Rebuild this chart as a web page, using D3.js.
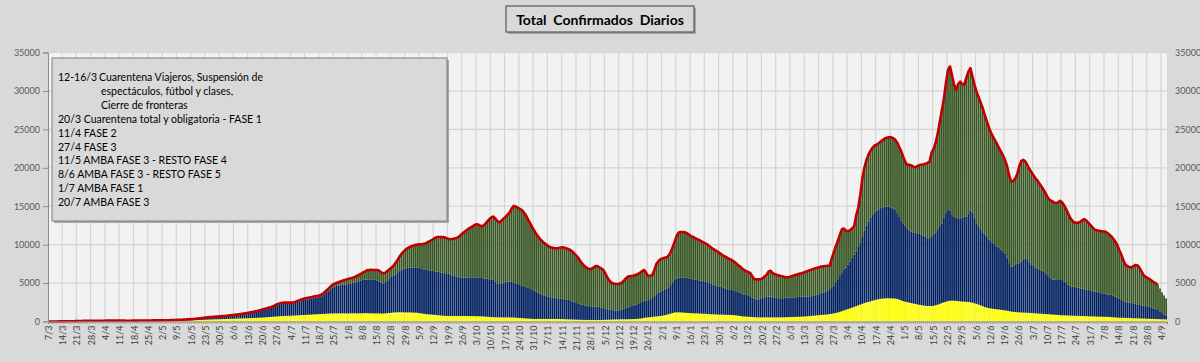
<!DOCTYPE html>
<html>
<head>
<meta charset="utf-8">
<script src="https://cdn.jsdelivr.net/npm/d3@7"></script>
<style>
  body { margin: 0; background: #d9d9d9; }
  svg { display: block; }
</style>
</head>
<body>
<div id="chart"></div>
<script>
// First day of the series (one bar per day)
const startDate = "2020-03-07";

// Daily confirmed cases, CABA (yellow)
const caba = [
  1,1,1,2,3,4,5, 6,7,8,10,12,14,17, 20,22,24,26,28,30,31, 32,33,34,35,36,37,38,
  39,40,40,41,41,41,40, 40,39,38,37,37,38,40, 42,44,46,48,50,52,54, 56,58,60,62,64,66,68,
  71,74,77,80,84,88,93, 98,104,110,117,124,132,142, 152,163,174,186,198,210,222, 234,245,256,266,276,285,294,
  302,310,318,326,334,342,350, 360,370,380,390,400,410,420, 430,440,450,462,475,490,505, 520,540,560,580,600,620,640,
  660,680,700,715,725,735,745, 755,770,785,800,815,830,845, 860,875,890,905,920,935,950, 965,980,995,1010,1025,1040,1050,
  1060,1060,1060,1060,1060,1060,1060, 1050,1060,1070,1070,1060,1050,1060, 1070,1080,1080,1070,1060,1060,1050, 1060,1050,1040,1030,1050,1080,1110,
  1140,1170,1190,1200,1200,1200,1190, 1190,1180,1180,1170,1160,1150,1120, 1080,1040,1000,960,930,910,890, 870,850,820,790,760,740,730,
  720,720,720,720,720,720,720, 720,720,710,710,700,700,690, 690,680,670,660,640,620,600, 580,560,550,540,540,540,540,
  540,540,530,520,510,500,480, 460,440,420,400,380,360,345, 335,330,330,330,330,330,330, 330,330,330,330,330,330,320,
  310,300,290,280,270,260,250, 240,230,220,210,205,200,200, 200,200,200,200,200,200,210, 220,230,240,250,260,270,280,
  280,285,290,290,295,300,310, 320,330,350,380,420,470,520, 540,570,600,630,660,690,720, 760,820,880,950,1030,1110,1180,
  1190,1190,1180,1160,1140,1120,1100, 1080,1070,1060,1050,1040,1030,1010, 1000,980,960,945,930,920,910, 900,890,880,870,860,850,840,
  820,800,760,720,680,650,630, 620,600,580,560,550,540,540, 540,540,540,540,540,540,540, 540,540,540,545,550,560,570,
  580,590,600,610,620,630,640, 660,680,700,720,750,780,810, 840,860,880,900,930,960,1000, 1050,1110,1180,1260,1350,1440,1530,
  1620,1710,1800,1900,2000,2100,2200, 2300,2400,2480,2550,2620,2700,2780, 2850,2900,2950,2980,3000,3020,3020, 3010,3000,2980,2930,2850,2750,2650,
  2580,2520,2460,2400,2340,2280,2230, 2180,2120,2080,2040,2020,2010,2020, 2050,2120,2200,2300,2400,2500,2580, 2650,2700,2710,2700,2680,2650,2620,
  2600,2580,2560,2540,2500,2450,2370, 2300,2200,2100,2000,1880,1800,1740, 1700,1660,1620,1580,1560,1520,1480, 1440,1400,1350,1290,1260,1240,1210,
  1190,1170,1160,1150,1140,1120,1100, 1080,1060,1040,1020,1000,980,970, 950,930,910,890,870,850,830, 810,800,790,780,770,760,750,
  740,730,720,710,700,690,680, 670,660,650,640,630,625,620, 610,600,590,570,550,530,510, 500,490,480,470,460,450,440,
  430,420,410,400,390,380,370, 360,350,340,330,320,310,300, 290,280,270
];

// Daily confirmed cases, Provincia de Buenos Aires (blue)
const pba = [
  0,1,1,1,2,3,3, 4,5,6,8,9,11,13, 15,17,19,21,23,25,26, 27,28,29,30,31,32,33,
  34,35,36,36,37,37,37, 37,36,35,35,35,35,36, 38,39,40,41,42,43,44, 45,46,47,48,49,50,51,
  52,54,56,59,62,66,70, 95,98,104,110,116,122,128, 140,153,166,183,200,218,236, 252,270,283,298,312,327,338,
  348,358,374,390,406,422,445, 465,495,525,555,585,615,640, 675,715,752,797,843,895,955, 1010,1055,1110,1165,1220,1300,1390,
  1490,1560,1605,1620,1620,1610,1590, 1585,1605,1660,1740,1815,1890,1965, 1960,2005,2040,2065,2110,2145,2190, 2235,2320,2485,2700,2915,3130,3350,
  3510,3560,3610,3660,3700,3740,3760, 3830,3880,3930,4010,4100,4190,4260, 4330,4360,4390,4420,4430,4420,4370, 4290,4150,4010,3940,4050,4270,4490,
  4660,4780,4910,5100,5350,5550,5690, 5730,5790,5820,5860,5890,5900,5900, 5870,5810,5750,5740,5750,5740,5710, 5680,5640,5630,5610,5590,5560,5540,
  5480,5380,5280,5180,5120,5060,5020, 4990,5000,5030,5040,5060,5050,5050, 5030,5020,4990,4960,4960,4940,4900, 4870,4840,4650,4410,4340,4410,4510,
  4580,4630,4660,4630,4540,4470,4420, 4340,4260,4180,4100,4020,3960,3855, 3715,3570,3420,3270,3150,3050,2970, 2890,2820,2750,2710,2690,2670,2660,
  2640,2600,2560,2520,2430,2340,2250, 2160,2070,1980,1940,1895,1850,1800, 1760,1740,1730,1720,1680,1620,1540, 1460,1370,1300,1250,1210,1180,1170,
  1200,1265,1360,1460,1555,1650,1710, 1780,1870,1950,2040,2130,2210,2220, 2260,2330,2450,2670,2890,3060,3180, 3240,3280,3370,3500,3720,3990,4220,
  4410,4510,4570,4590,4580,4560,4520, 4480,4430,4390,4350,4310,4270,4240, 4180,4120,4040,3955,3870,3780,3690, 3640,3590,3520,3430,3340,3280,3260,
  3230,3150,3090,3030,2920,2850,2820, 2780,2700,2520,2390,2350,2350,2410, 2510,2610,2660,2690,2690,2610,2540, 2510,2490,2480,2485,2500,2520,2530,
  2540,2550,2550,2560,2580,2590,2590, 2580,2570,2560,2580,2600,2640,2690, 2760,2840,2920,2980,3020,3140,3350, 3650,3990,4320,4640,4950,5260,5470,
  5780,6090,6500,6800,7100,7600,8100, 8700,9400,10020,10450,10880,11200,11420, 11550,11700,11800,11870,11950,11930,11930, 11840,11700,11520,11170,10750,10350,10130,
  9920,9580,9340,9290,9260,9220,9170, 9210,9180,9120,8960,8800,8840,8980, 9210,9480,9800,10100,10380,11000,11520, 11950,11700,11190,10950,10870,10800,10810,
  10900,11020,11090,11460,11930,11750,11130, 10480,10200,9900,9600,9380,9200,8960, 8750,8540,8340,8170,7990,7830,7670, 7430,6900,6250,5850,5940,6110,6290,
  6380,6630,6840,7070,6860,6580,6260, 6120,5940,5810,5680,5620,5470,5280, 5050,4820,4580,4560,4550,4550,4570, 4590,4400,4210,4020,3830,3780,3750,
  3710,3670,3580,3540,3490,3460,3420, 3330,3290,3250,3210,3120,3075,3030, 2990,2950,2910,2880,2800,2720,2590, 2450,2310,2170,2110,2040,2000,1960,
  1920,1880,1790,1750,1710,1670,1630, 1590,1550,1460,1370,1280,1190,1000, 810,620,530
];

// Daily confirmed cases, whole country (top of the bars / red line)
const total = [
  2,3,3,5,8,10,12, 15,18,22,28,33,40,48, 55,62,68,75,80,85,88, 90,92,95,98,100,102,105,
  108,110,112,113,115,115,114, 112,110,108,106,105,106,110, 115,118,120,122,125,128,132, 135,138,140,142,145,148,150,
  155,160,165,172,180,190,200, 210,220,232,245,258,272,290, 310,335,360,390,420,450,480, 510,540,565,590,615,640,660,
  680,700,725,750,775,800,830, 860,900,940,980,1020,1060,1100, 1150,1200,1250,1310,1370,1440,1510, 1590,1660,1740,1820,1900,2000,2120,
  2250,2350,2420,2450,2460,2460,2450, 2460,2500,2580,2680,2780,2880,2960, 3020,3080,3130,3180,3240,3300,3360, 3430,3550,3750,4000,4250,4500,4750,
  4900,5000,5100,5200,5300,5400,5480, 5550,5620,5700,5800,5920,6050,6200, 6350,6500,6650,6700,6720,6700,6700, 6700,6600,6400,6270,6350,6550,6800,
  7000,7250,7600,8000,8450,8800,9100, 9350,9550,9700,9800,9900,9980,10020, 10040,10060,10100,10200,10350,10480,10620, 10800,10950,11000,11000,10980,10950,10850,
  10750,10700,10720,10800,10870,11000,11250, 11480,11700,11900,12100,12250,12400,12600, 12650,12550,12400,12450,12700,13000,13300, 13550,13650,13400,13050,12900,13100,13400,
  13600,13900,14200,14700,15040,14950,14800, 14650,14500,14200,13800,13300,12800,12300, 11850,11400,11050,10700,10450,10200,10000, 9800,9650,9600,9550,9530,9560,9620,
  9660,9600,9500,9400,9250,9050,8750, 8500,8150,7750,7400,7150,6950,6800, 6850,7000,7200,7200,7050,6900,6700, 6200,5700,5300,5050,4950,4880,4880,
  4950,5060,5300,5600,5840,5900,5920, 5980,6080,6180,6350,6550,6700,6300, 5920,5950,6050,6700,7500,7850,8100, 8200,8300,8350,8600,9000,9700,10400,
  11200,11570,11650,11650,11600,11480,11300, 11100,11000,10850,10720,10600,10450,10300, 10150,10000,9800,9600,9400,9250,9100, 8900,8700,8550,8400,8250,8100,8000,
  7800,7600,7350,7150,6900,6700,6550, 6450,6300,5900,5500,5480,5480,5500, 5600,5850,6050,6500,6600,6300,6180, 6080,6000,5920,5850,5780,5750,5750,
  5850,5950,6050,6120,6200,6270,6350, 6450,6550,6650,6750,6850,6920,7000, 7080,7140,7180,7220,7250,7270,8200, 9000,9800,10500,11300,12000,12100,11800,
  11750,11900,12100,12400,13800,14800,16500, 18600,20000,21000,21700,22200,22600,22900, 23000,23200,23400,23600,23800,23900,23980, 24000,23850,23700,23300,22770,22200,21470,
  20800,20380,20380,20300,20150,20080,20200, 20350,20400,20450,20510,20650,20810,22000, 22500,23300,24500,26000,27500,29000,31000, 32700,33180,32000,30800,30140,30900,31200,
  30900,30800,31700,32500,32960,31880,30800, 29900,29200,28500,27800,26900,26100,25300, 24600,24100,23600,23100,22600,22100,21600, 21000,20200,19000,18200,18300,18600,19200,
  20200,20900,21030,20800,20300,19800,19400, 19000,18600,18300,17900,17500,17100,16600, 16100,15800,15650,15500,15400,15500,15700, 15500,15100,14600,14000,13450,13100,12870,
  12850,12870,13000,13200,13300,13100,12800, 12500,12200,11950,11870,11820,11770,11720, 11690,11550,11350,11100,10800,10400,10000, 9300,8700,8000,7400,7200,7100,7050,
  7200,7360,7300,6950,6500,6000,5800, 5650,5500,5300,5100,4950,4750,4300, 3800,3400,3000
];

// the red line stops a few days before the last bars
const lineEndDate = "2021-09-02";

const yTicks = [0, 5000, 10000, 15000, 20000, 25000, 30000, 35000];

const title = "Total  Confirmados  Diarios";

// annotation box: [date, text, indented]
const notes = [
  ["12-16/3", "Cuarentena Viajeros, Suspensión de", false],
  ["", "espectáculos, fútbol y clases,", true],
  ["", "Cierre de fronteras", true],
  ["20/3", "Cuarentena total y obligatoria - FASE 1", false],
  ["11/4", "FASE 2", false],
  ["27/4", "FASE 3", false],
  ["11/5", "AMBA FASE 3 - RESTO FASE 4", false],
  ["8/6", "AMBA FASE 3 - RESTO FASE 5", false],
  ["1/7", "AMBA FASE 1", false],
  ["20/7", "AMBA FASE 3", false]
];

const colors = { caba: "#ffff00", pba: "#002060", resto: "#375623" };

let width = 1200, height = 362;
let margin = { top: 52.5, bottom: 40.5, left: 48, right: 33 };
const font = "Lato, 'Liberation Sans', sans-serif";

const parse = d3.timeParse("%Y-%m-%d");
const start = parse(startDate);
const dates = d3.timeDay.range(start, d3.timeDay.offset(start, total.length));
const lineEnd = parse(lineEndDate);

const data = dates.map((d, i) => ({
  date: d,
  caba: caba[i],
  pba: pba[i],
  resto: total[i] - caba[i] - pba[i],
  total: total[i]
}));

let svg = d3.select('#chart')
  .append('svg')
  .attr('width', width)
  .attr('height', height)
  .style('background', '#d9d9d9');

let x = d3.scaleBand()
  .domain(dates)
  .range([margin.left, width - margin.right])
  .paddingInner(0.14)
  .paddingOuter(0);

let y = d3.scaleLinear()
  .domain([0, 35000])
  .range([height - margin.bottom, margin.top]);

// plot area
svg.append('rect')
  .attr('x', margin.left)
  .attr('y', margin.top)
  .attr('width', width - margin.left - margin.right)
  .attr('height', height - margin.top - margin.bottom)
  .attr('fill', '#f2f2f2');

// gridlines
const gap = (x.step() - x.bandwidth()) / 2;
const weekDates = dates.filter((d, i) => i % 7 === 0);

svg.append('g')
  .selectAll('line')
  .data(weekDates)
  .enter()
  .append('line')
  .attr('x1', d => x(d) - gap)
  .attr('x2', d => x(d) - gap)
  .attr('y1', margin.top)
  .attr('y2', height - margin.bottom)
  .attr('stroke', '#d4d4d4')
  .attr('stroke-width', 1.2);

svg.append('g')
  .selectAll('line')
  .data(yTicks)
  .enter()
  .append('line')
  .attr('x1', margin.left)
  .attr('x2', width - margin.right)
  .attr('y1', d => y(d))
  .attr('y2', d => y(d))
  .attr('stroke', '#d4d4d4')
  .attr('stroke-width', 1.2);

// stacked bars
const stack = d3.stack().keys(['caba', 'pba', 'resto']);
const series = stack(data);

svg.append('g')
  .selectAll('g')
  .data(series)
  .enter()
  .append('g')
  .attr('fill', s => colors[s.key])
  .selectAll('rect')
  .data(s => s)
  .enter()
  .append('rect')
  .attr('x', d => x(d.data.date))
  .attr('y', d => y(d[1]))
  .attr('width', x.bandwidth())
  .attr('height', d => Math.max(0, y(d[0]) - y(d[1])));

// red line
let line = d3.line()
  .x(d => x(d.date) + x.bandwidth() / 2)
  .y(d => y(d.total))
  .curve(d3.curveLinear);

svg.append('path')
  .datum(data.filter(d => d.date <= lineEnd))
  .attr('d', line)
  .attr('fill', 'none')
  .attr('stroke', '#c00000')
  .attr('stroke-width', 2.6)
  .attr('stroke-linejoin', 'round');

// left axis
let yAxis = svg.append('g')
  .attr('transform', `translate(${margin.left}, 0)`)
  .call(d3.axisLeft(y).tickValues(yTicks).tickSize(5).tickPadding(3).tickFormat(d3.format('d')));

yAxis.select('.domain').attr('stroke', '#8c8c8c');
yAxis.selectAll('.tick line').attr('stroke', '#8c8c8c');
yAxis.selectAll('text')
  .style('font-family', font)
  .style('font-size', '9px')
  .attr('fill', '#595959');

// right axis
let yAxisR = svg.append('g')
  .attr('transform', `translate(${width - margin.right}, 0)`)
  .call(d3.axisRight(y).tickValues(yTicks).tickSize(0).tickPadding(8).tickFormat(d3.format('d')));

yAxisR.select('.domain').remove();
yAxisR.selectAll('text')
  .style('font-family', font)
  .style('font-size', '9px')
  .attr('fill', '#595959');

// bottom axis: small tick for every day
let xMinor = svg.append('g')
  .attr('transform', `translate(0, ${height - margin.bottom})`)
  .call(d3.axisBottom(x).tickValues(dates).tickSize(2.5).tickFormat(''));

xMinor.select('.domain').attr('stroke', '#8c8c8c');
xMinor.selectAll('.tick line').attr('stroke', '#a0a0a0').attr('stroke-width', 0.8);

let xAxis = svg.append('g')
  .attr('transform', `translate(0, ${height - margin.bottom})`)
  .call(d3.axisBottom(x).tickValues(weekDates).tickSize(0).tickFormat(d3.timeFormat('%-d/%-m')));

xAxis.select('.domain').remove();
xAxis.selectAll('text')
  .attr('transform', 'rotate(-90)')
  .attr('text-anchor', 'end')
  .attr('x', -4)
  .attr('y', 0)
  .attr('dy', '0.34em')
  .style('font-family', font)
  .style('font-size', '9px')
  .attr('fill', '#404040');

// title box
const titleBox = svg.append('g');
titleBox.append('rect')
  .attr('x', 508).attr('y', 8)
  .attr('width', 188).attr('height', 26)
  .attr('fill', '#a6a6a6');
titleBox.append('rect')
  .attr('x', 506).attr('y', 6)
  .attr('width', 188).attr('height', 26)
  .attr('fill', '#d9d9d9')
  .attr('stroke', '#404040')
  .attr('stroke-width', 1);
titleBox.append('text')
  .attr('x', 600)
  .attr('y', 24.5)
  .attr('text-anchor', 'middle')
  .style('font-family', font)
  .style('font-weight', 'bold')
  .style('font-size', '14px')
  .style('white-space', 'pre')
  .attr('fill', '#000')
  .text(title);

// annotation box
const noteBox = svg.append('g');
noteBox.append('rect')
  .attr('x', 54).attr('y', 60)
  .attr('width', 395).attr('height', 163)
  .attr('fill', '#a6a6a6');
noteBox.append('rect')
  .attr('x', 52).attr('y', 58)
  .attr('width', 395).attr('height', 163)
  .attr('fill', '#d9d9d9')
  .attr('stroke', '#7f7f7f')
  .attr('stroke-width', 1);

notes.forEach((n, i) => {
  const t = noteBox.append('text')
    .attr('y', 81 + i * 13.9)
    .style('font-family', font)
    .style('font-size', '10.5px')
    .attr('fill', '#000');
  if (i === 0) {
    t.append('tspan').attr('x', 58).text(n[0]);
    t.append('tspan').attr('x', 99).text(n[1]);
  } else if (n[2]) {
    t.attr('x', 101).text(n[1]);
  } else {
    t.attr('x', 58).text(n[0] + ' ' + n[1]);
  }
});
</script>
</body>
</html>
